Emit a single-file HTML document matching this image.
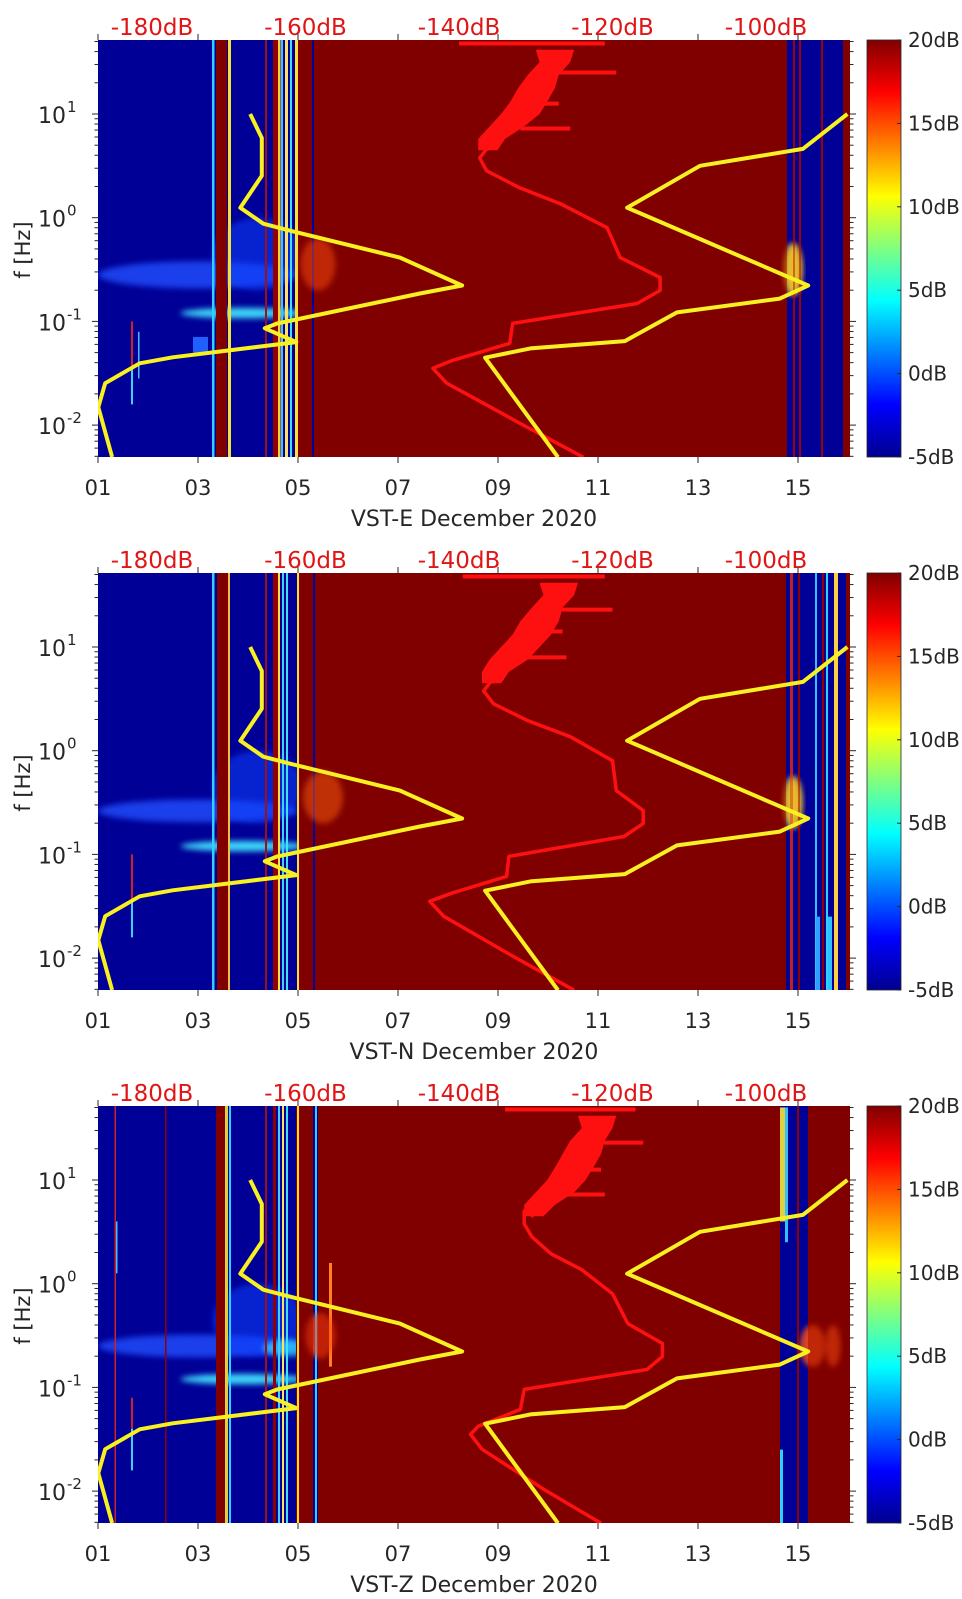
<!DOCTYPE html>
<html><head><meta charset="utf-8">
<style>
body{margin:0;background:#fff}
svg{display:block}
text{font-family:"DejaVu Sans","Liberation Sans",sans-serif}
</style></head>
<body>
<svg id="fig" width="962" height="1599" xmlns="http://www.w3.org/2000/svg">
<defs>
<linearGradient id="jet" x1="0" y1="1" x2="0" y2="0">
<stop offset="0" stop-color="#00008f"/><stop offset="0.125" stop-color="#0000ff"/>
<stop offset="0.375" stop-color="#00ffff"/><stop offset="0.625" stop-color="#ffff00"/>
<stop offset="0.875" stop-color="#ff0000"/><stop offset="1" stop-color="#800000"/>
</linearGradient>
<filter id="blur3" x="-20%" y="-50%" width="140%" height="200%"><feGaussianBlur stdDeviation="3"/></filter>
<clipPath id="plotclip" clipPathUnits="userSpaceOnUse"><rect x="98" y="40" width="752" height="417"/></clipPath>
</defs>
</svg>
<script>
// ---- data ----
const panelNames = ['VST-E', 'VST-N', 'VST-Z'];
const dayTicks = ['01','03','05','07','09','11','13','15'];
const dbTickLabels = ['-180dB','-160dB','-140dB','-120dB','-100dB'];
const dbTickValues = [-180,-160,-140,-120,-100];
const cbarLabels = ['20dB','15dB','10dB','5dB','0dB','-5dB'];
const cbarValues = [20,15,10,5,0,-5];
const yDecades = [1,0,-1,-2];

// low / high noise model (log10 f, dB)
const lowLogF = [1.0,0.769,0.404,0.096,-0.058,-0.125,-0.385,-0.654,-0.731,-1.02,-1.067,-1.2,-1.346,-1.404,-1.596,-1.827,-2.308];
const lowDb   = [-167.2,-165.7,-165.7,-168.5,-165.5,-162.0,-147.7,-139.6,-145.1,-163.7,-165.3,-161.2,-177.3,-181.6,-186.1,-187.0,-185.2];
const highLogF = [1.0,0.663,0.5,0.096,-0.654,-0.78,-0.913,-1.19,-1.26,-1.35,-2.31];
const highDb   = [-89.4,-95.2,-108.6,-118.1,-94.5,-98.2,-111.6,-118.4,-130.7,-136.6,-127.1];

// median noise per panel
const medLogF = [0.70,0.577,0.452,0.288,0.135,-0.096,-0.385,-0.577,-0.702,-0.827,-1.019,-1.212,-1.375,-1.452,-1.596,-1.981,-2.31];
const medDbE = [-136.0,-137.3,-136.4,-132.1,-126.8,-120.7,-119.0,-113.8,-113.8,-116.8,-133.0,-133.4,-140.8,-143.4,-141.6,-132.1,-123.8];
const medDbN = [-135.5,-136.8,-135.5,-131.0,-125.5,-120.0,-119.5,-116.0,-116.0,-118.5,-133.5,-133.8,-141.0,-143.8,-142.0,-133.0,-125.0];
const medDbZ = [-131.5,-131.5,-130.5,-128.0,-124.0,-120.0,-118.0,-113.5,-113.5,-115.5,-131.5,-132.0,-137.5,-138.5,-137.0,-129.0,-121.5];
// high-frequency spread band
const bandLogF = [1.62,1.50,1.38,1.25,1.12,1.0,0.88,0.76,0.65];
const bandLoE = [-130.0,-129.5,-131.0,-132.3,-133.3,-134.5,-136.0,-137.5,-137.5];
const bandHiE = [-125.0,-125.5,-127.0,-127.5,-128.5,-129.5,-131.5,-134.0,-135.0];
const bandLoN = [-129.5,-129.0,-130.5,-132.0,-133.0,-134.5,-136.0,-137.0,-137.0];
const bandHiN = [-124.5,-125.0,-126.5,-127.0,-128.0,-129.5,-131.0,-133.5,-134.5];
const bandLoZ = [-124.5,-124.0,-125.5,-126.5,-127.5,-128.5,-130.0,-131.5,-131.5];
const bandHiZ = [-119.5,-120.0,-121.0,-121.5,-122.5,-123.5,-125.0,-127.5,-129.0];
// horizontal spikes: [log10 f, dBstart, dBend]
const spikesE = [[1.68,-140.0,-121.0],[1.40,-129.0,-119.5],[0.86,-132.0,-125.5],[1.1,-131,-127]];
const spikesN = [[1.68,-139.5,-121.0],[1.36,-129.0,-120.0],[0.90,-133.0,-126.0],[1.15,-131,-126.5]];
const spikesZ = [[1.68,-134.0,-117.0],[1.36,-124.0,-116.0],[0.86,-128.0,-121.0],[1.1,-126,-121.5]];

// spectrogram stripes: [dayStart, dayEnd, colour, lfLow, lfHigh]
const stripesE = [[5.0,14.78,'#800000'],[3.28,3.33,'#30d0ff'],[3.36,3.58,'#800000'],[3.6,3.66,'#f0e040'],[4.34,4.38,'#a01010'],[4.5,4.6,'#900000'],[4.6,4.65,'#ffd030'],[4.66,4.7,'#40c0ff'],[4.74,4.8,'#ffe060'],[4.84,4.88,'#40e0ff'],[4.94,5.0,'#ffe030'],[5.28,5.32,'#0000a0'],[14.9,14.94,'#a00000'],[15.02,15.06,'#a00000'],[15.46,15.5,'#a00000'],[15.9,16.04,'#800000'],
  [1.66,1.7,'#d02020',-1.45,-1.0],[1.66,1.7,'#40d0ff',-1.8,-1.45],[1.8,1.83,'#40c0ff',-1.55,-1.1],[2.9,3.2,'#2060ff',-1.3,-1.15]];
const stripesN = [[5.0,14.76,'#800000'],[3.28,3.33,'#30d0ff'],[3.38,3.64,'#800000'],[3.6,3.64,'#f0c040'],[4.34,4.38,'#a01010'],[4.5,4.6,'#900000'],[4.6,4.64,'#ffe040'],[4.68,4.72,'#40d0ff'],[4.76,4.8,'#40e0ff'],[4.98,5.3,'#800000'],[4.98,5.02,'#ffe030'],[5.3,5.34,'#0000a0'],[14.84,14.9,'#c02020'],[15.0,15.04,'#900000'],[15.34,15.38,'#30c0ff'],[15.48,15.52,'#900000'],[15.56,15.6,'#30d0ff'],[15.72,15.8,'#ffd040'],[15.96,16.04,'#800000'],
  [1.66,1.7,'#d02020',-1.45,-1.0],[1.66,1.7,'#40d0ff',-1.8,-1.45],[15.36,15.44,'#30a0ff',-2.31,-1.6],[15.6,15.68,'#30c0ff',-2.31,-1.6]];
const stripesZ = [[5.4,14.64,'#800000'],[15.2,16.04,'#800000'],[1.33,1.36,'#d02020'],[2.34,2.37,'#900000'],[3.36,3.56,'#800000'],[3.54,3.6,'#e0d040'],[3.62,3.66,'#30d0ff'],[4.34,4.38,'#a01010'],[4.5,4.56,'#900000'],[4.6,4.64,'#40d0ff'],[4.68,4.72,'#ffe060'],[4.76,4.8,'#40e0ff'],[4.96,5.3,'#800000'],[4.98,5.02,'#ffe030'],[5.34,5.38,'#30d0ff'],[14.98,15.02,'#900000'],
  [14.64,14.74,'#e0d040',0.6,1.7],[14.74,14.8,'#30c0ff',0.4,1.7],[14.64,14.7,'#30d0ff',-2.31,-1.6],[1.66,1.7,'#d02020',-1.4,-1.1],[1.66,1.7,'#40d0ff',-1.8,-1.4],[1.36,1.39,'#40c0ff',0.1,0.6],[5.62,5.68,'#ff8020',-0.8,0.2]];
// haze blobs: [dayCentre, log10 f centre, halfWidthDays, halfHeightDecades, colour, opacity]
const hazeE = [[3.0,-0.55,2.0,0.13,'#2050ff',0.8],[4.2,-0.35,0.9,0.35,'#1040ff',0.55],[3.9,-0.92,1.25,0.05,'#40e0ff',0.95],[5.4,-0.45,0.35,0.25,'#ff5010',0.7],[14.9,-0.5,0.18,0.25,'#ffd020',0.8]];
const hazeN = [[3.0,-0.58,2.0,0.11,'#2050ff',0.8],[4.2,-0.35,0.9,0.35,'#1040ff',0.55],[3.9,-0.92,1.25,0.05,'#40e0ff',0.95],[5.5,-0.45,0.4,0.25,'#ff6010',0.75],[14.9,-0.5,0.18,0.25,'#ffd020',0.8]];
const hazeZ = [[3.0,-0.6,2.0,0.11,'#2050ff',0.8],[4.2,-0.35,0.9,0.35,'#1040ff',0.55],[3.9,-0.92,1.25,0.05,'#40e0ff',0.95],[4.8,-0.62,0.5,0.08,'#30d0ff',0.8],[5.45,-0.5,0.3,0.22,'#ff4010',0.6],[15.3,-0.6,0.25,0.2,'#ff5010',0.7],[15.7,-0.6,0.15,0.2,'#ff5010',0.7]];

const panels = [
  {name: panelNames[0], med: medDbE, lo: bandLoE, hi: bandHiE, spikes: spikesE, stripes: stripesE, haze: hazeE},
  {name: panelNames[1], med: medDbN, lo: bandLoN, hi: bandHiN, spikes: spikesN, stripes: stripesN, haze: hazeN},
  {name: panelNames[2], med: medDbZ, lo: bandLoZ, hi: bandHiZ, spikes: spikesZ, stripes: stripesZ, haze: hazeZ}
];

// ---- axes ----
const PX0 = 98, PX1 = 850, PY0 = 40, PY1 = 457;
const dayX = d => PX0 + (d - 1) * 50;
const dbX = db => 152 + (db + 180) * 7.675;
const lfY = lf => 114 + (1 - lf) * 103.7;
const cbY = v => PY1 - (v + 5) / 25 * (PY1 - PY0);
const NS = 'http://www.w3.org/2000/svg';
const svg = document.getElementById('fig');
function mk(tag, attrs, parent) {
  const e = document.createElementNS(NS, tag);
  for (const k in attrs) e.setAttribute(k, attrs[k]);
  parent.appendChild(e);
  return e;
}
const pts = (lfs, dbs) => lfs.map((lf, i) => dbX(dbs[i]).toFixed(1) + ',' + lfY(lf).toFixed(1)).join(' ');

panels.forEach((p, pi) => {
  const g = mk('g', {transform: 'translate(0,' + (pi * 533) + ')'}, svg);
  
  

  const spec = mk('g', {'clip-path': 'url(#plotclip)'}, g);
  
  
  const bg = mk('rect', {x: PX0, y: PY0, width: PX1 - PX0, height: PY1 - PY0, fill: '#000096'}, spec);
  
  
  p.haze.forEach(h => {
    const el = mk('ellipse', {cx: dayX(h[0]), cy: lfY(h[1]), rx: h[2] * 50, ry: h[3] * 103.7, fill: h[4], opacity: h[5], filter: 'url(#blur3)'}, spec);
    
    
  });
  p.stripes.forEach(s => {
    const top = s.length > 3 ? lfY(s[4]) : PY0;
    const bot = s.length > 3 ? lfY(s[3]) : PY1;
    const el = mk('rect', {x: dayX(s[0]), y: top, width: Math.max(1.5, dayX(s[1]) - dayX(s[0])), height: bot - top, fill: s[2]}, spec);
    
    
  });
  p.haze.filter(h => h[4].startsWith('#ff')).forEach(h => {
    const el = mk('ellipse', {cx: dayX(h[0]), cy: lfY(h[1]), rx: h[2] * 50, ry: h[3] * 103.7, fill: h[4], opacity: 0.5, filter: 'url(#blur3)'}, spec);
    
    
  });

  // curves
  const cg = mk('g', {'clip-path': 'url(#plotclip)'}, g);
  const band = mk('polygon', {points: pts(bandLogF, p.lo) + ' ' + pts(bandLogF.slice().reverse(), p.hi.slice().reverse()), fill: '#ff1010'}, cg);
  
  
  p.spikes.forEach(s => {
    const y = lfY(s[0]);
    const el = mk('line', {x1: dbX(s[1]), x2: dbX(s[2]), y1: y, y2: y, stroke: '#ff1010', 'stroke-width': 4}, cg);
    
    
  });
  const med = mk('polyline', {points: pts([bandLogF[8]].concat(medLogF), [(p.lo[8] + p.hi[8]) / 2].concat(p.med)), fill: 'none', stroke: '#ff1010', 'stroke-width': 3.5, 'stroke-linejoin': 'round'}, cg);
  
  
  const lo = mk('polyline', {points: pts(lowLogF, lowDb), fill: 'none', stroke: '#f8f020', 'stroke-width': 4, 'stroke-linejoin': 'round'}, cg);
  
  
  const hi = mk('polyline', {points: pts(highLogF, highDb), fill: 'none', stroke: '#f8f020', 'stroke-width': 4, 'stroke-linejoin': 'round'}, cg);
  
  

  // axes ticks
  const ax = mk('g', {stroke: '#262626', 'stroke-width': 1}, g);
  
  
  dayTicks.forEach((t, i) => {
    const x = dayX(1 + i * 2);
    mk('line', {x1: x, x2: x, y1: PY1, y2: PY1 + 6}, ax);
    mk('line', {x1: x, x2: x, y1: PY0, y2: PY0 - 6}, ax);
    const tx = mk('text', {x: x, y: PY1 + 38, 'text-anchor': 'middle', 'font-size': 21, fill: '#262626', stroke: 'none'}, g);
    tx.textContent = t;
    
    
  });
  for (let d = -3; d <= 1; d++) {
    for (let m = 1; m <= 9; m++) {
      const lf = d + Math.log10(m);
      if (lf < -2.31 || lf > 1.715) continue;
      const y = lfY(lf), len = m === 1 ? 6 : 3.5;
      mk('line', {x1: PX0 - len, x2: PX0, y1: y, y2: y}, ax);
      mk('line', {x1: PX1, x2: PX1 + len, y1: y, y2: y}, ax);
    }
  }
  yDecades.forEach(d => {
    const y = lfY(d);
    const tx = mk('text', {x: 66, y: y + 9, 'text-anchor': 'end', 'font-size': 22, fill: '#262626'}, g);
    tx.textContent = '10';
    
    
    const sup = mk('text', {x: 67, y: y - 2, 'font-size': 15, fill: '#262626'}, g);
    sup.textContent = String(d);
    
    
  });
  dbTickLabels.forEach((t, i) => {
    const tx = mk('text', {x: dbX(dbTickValues[i]), y: 35, 'text-anchor': 'middle', 'font-size': 23, fill: '#e01515'}, g);
    tx.textContent = t;
    
    
  });
  const yl = mk('text', {x: 0, y: 0, 'text-anchor': 'middle', 'font-size': 21, fill: '#262626', transform: 'translate(30,250) rotate(-90)'}, g);
  yl.textContent = 'f [Hz]';
  
  
  const xl = mk('text', {x: 474, y: 526, 'text-anchor': 'middle', 'font-size': 22, fill: '#262626'}, g);
  xl.textContent = p.name + ' December 2020';
  
  

  // colorbar
  const cb = mk('rect', {x: 867, y: PY0, width: 34, height: PY1 - PY0, fill: 'url(#jet)', stroke: '#262626', 'stroke-width': 0.8}, g);
  
  
  cbarLabels.forEach((t, i) => {
    const y = cbY(cbarValues[i]);
    mk('line', {x1: 897, x2: 901, y1: y, y2: y, stroke: '#262626'}, g);
    const tx = mk('text', {x: 908, y: y + 7, 'font-size': 20, fill: '#262626'}, g);
    tx.textContent = t;
    
    
  });
});
</script>
</body></html>
